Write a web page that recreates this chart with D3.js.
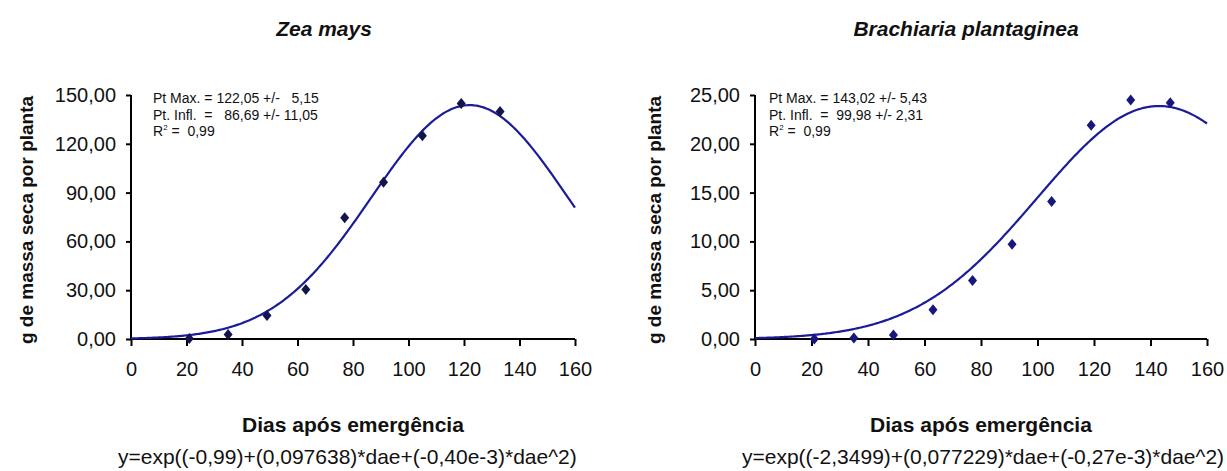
<!DOCTYPE html>
<html>
<head>
<meta charset="utf-8">
<script src="https://cdn.jsdelivr.net/npm/d3@7"></script>
<style>
  html, body { margin: 0; padding: 0; background: #fff; }
  svg { display: block; font-family: "Liberation Sans", Arial, sans-serif; }
</style>
</head>
<body>
<svg id="chart" width="1227" height="471"></svg>
<script>
// Sampling days (dias após emergência)
const daysZea = [21, 35, 49, 63, 77, 91, 105, 119, 133];
const daysBra = [21, 35, 49, 63, 77, 91, 105, 119, 133, 147];

// Dry mass per plant (g)
const massZea = [0.3, 2.7, 14.5, 30.5, 74.5, 96.3, 125.0, 144.8, 139.8];
const massBra = [0.0, 0.1, 0.4, 3.0, 6.0, 9.7, 14.1, 21.9, 24.5, 24.2];

// Fitted model y = exp(a + b*dae + c*dae^2): [a, b, c]
const coefZea = [-0.99, 0.097638, -0.40e-3];
const coefBra = [-2.3499, 0.077229, -0.27e-3];

// Axis ticks
const xTicks = [0, 20, 40, 60, 80, 100, 120, 140, 160];
const yTicksZea = [0, 30, 60, 90, 120, 150];
const yTicksBra = [0, 5, 10, 15, 20, 25];

// Text
const titles = ["Zea mays", "Brachiaria plantaginea"];
const yTitle = "g de massa seca por planta";
const xTitle = "Dias após emergência";
const equations = [
  "y=exp((-0,99)+(0,097638)*dae+(-0,40e-3)*dae^2)",
  "y=exp((-2,3499)+(0,077229)*dae+(-0,27e-3)*dae^2)"
];
const statsZea = ["Pt Max. = 122,05 +/-   5,15", "Pt. Infl.  =   86,69 +/- 11,05", "0,99"];
const statsBra = ["Pt Max. = 143,02 +/- 5,43", "Pt. Infl.  =  99,98 +/- 2,31", "0,99"];

const svg = d3.select("#chart");
const fmt = v => d3.format(".2f")(v).replace(".", ",");

const panels = [
  { days: daysZea, mass: massZea, coef: coefZea, yTicks: yTicksZea, stats: statsZea,
    title: titles[0], eq: equations[0],
    x0: 131, x1: 575, titleX: 324, yTitleX: 26, eqX: 118, statX: 153,
    dotColor: "#14144e" },
  { days: daysBra, mass: massBra, coef: coefBra, yTicks: yTicksBra, stats: statsBra,
    title: titles[1], eq: equations[1],
    x0: 755, x1: 1207, titleX: 966, yTitleX: 654, eqX: 742, statX: 769,
    dotColor: "#17177e" }
];

const yTop = 95, yBot = 339;

panels.forEach(p => {
  const x = d3.scaleLinear().domain([0, 160]).range([p.x0, p.x1]);
  const y = d3.scaleLinear().domain([0, d3.max(p.yTicks)]).range([yBot, yTop]);
  const g = svg.append("g");

  // axes
  const xAxis = d3.axisBottom(x).tickValues(xTicks).tickSize(7).tickPadding(16)
    .tickFormat(d3.format("d"));
  const yAxis = d3.axisLeft(y).tickValues(p.yTicks).tickSize(5).tickPadding(10)
    .tickFormat(fmt);

  const gx = g.append("g").attr("transform", `translate(0,${yBot})`).call(xAxis);
  const gy = g.append("g").attr("transform", `translate(${p.x0},0)`).call(yAxis);
  [gx, gy].forEach(a => {
    a.select(".domain").attr("stroke", "#000").attr("stroke-width", 2);
    a.selectAll(".tick line").attr("stroke", "#000").attr("stroke-width", 2);
    a.selectAll(".tick text").attr("fill", "#111").attr("font-size", 20);
  });
  gx.select(".domain").attr("d", `M${p.x0},0H${p.x1}`);
  gy.select(".domain").attr("d", `M0,${yBot}V${yTop}`);

  // fitted curve
  const curvePts = d3.range(0, 160.01, 0.5).map(d => [d, Math.exp(p.coef[0] + p.coef[1] * d + p.coef[2] * d * d)]);
  g.append("path")
    .datum(curvePts)
    .attr("fill", "none")
    .attr("stroke", "#1c1c98")
    .attr("stroke-width", 2.2)
    .attr("d", d3.line().x(d => x(d[0])).y(d => y(d[1])));

  // observed points
  g.selectAll(".pt").data(p.days.map((d, i) => [d, p.mass[i]])).enter()
    .append("path")
    .attr("class", "pt")
    .attr("transform", d => `translate(${x(d[0])},${y(d[1])})`)
    .attr("d", "M0,-5.5L4.5,0L0,5.5L-4.5,0Z")
    .attr("fill", p.dotColor);

  // title
  g.append("text").attr("x", p.titleX).attr("y", 36)
    .attr("text-anchor", "middle").attr("font-size", 21)
    .attr("font-weight", "bold").attr("font-style", "italic").attr("fill", "#111")
    .text(p.title);

  // y title
  g.append("text")
    .attr("transform", `translate(${p.yTitleX + 7},220) rotate(-90)`)
    .attr("text-anchor", "middle").attr("font-size", 19).attr("font-weight", "bold")
    .attr("fill", "#111").text(yTitle);

  // x title, centred under the plot
  g.append("text").attr("x", (p.x0 + p.x1) / 2).attr("y", 432)
    .attr("text-anchor", "middle").attr("font-size", 21).attr("font-weight", "bold")
    .attr("fill", "#111").text(xTitle);

  // equation
  g.append("text").attr("x", p.eqX).attr("y", 464)
    .attr("font-size", 21).attr("fill", "#111").text(p.eq);

  // fit statistics as one three-line block
  const st = g.append("text").attr("font-size", 14).attr("fill", "#111")
    .attr("xml:space", "preserve");
  st.append("tspan").attr("x", p.statX).attr("y", 103).text(p.stats[0]);
  st.append("tspan").attr("x", p.statX).attr("y", 119.5).text(p.stats[1]);
  st.append("tspan").attr("x", p.statX).attr("y", 136).text("R");
  st.append("tspan").attr("font-size", 8).attr("dy", -6).text("2");
  st.append("tspan").attr("dy", 6).text(" =  " + p.stats[2]);
});
</script>
</body>
</html>
